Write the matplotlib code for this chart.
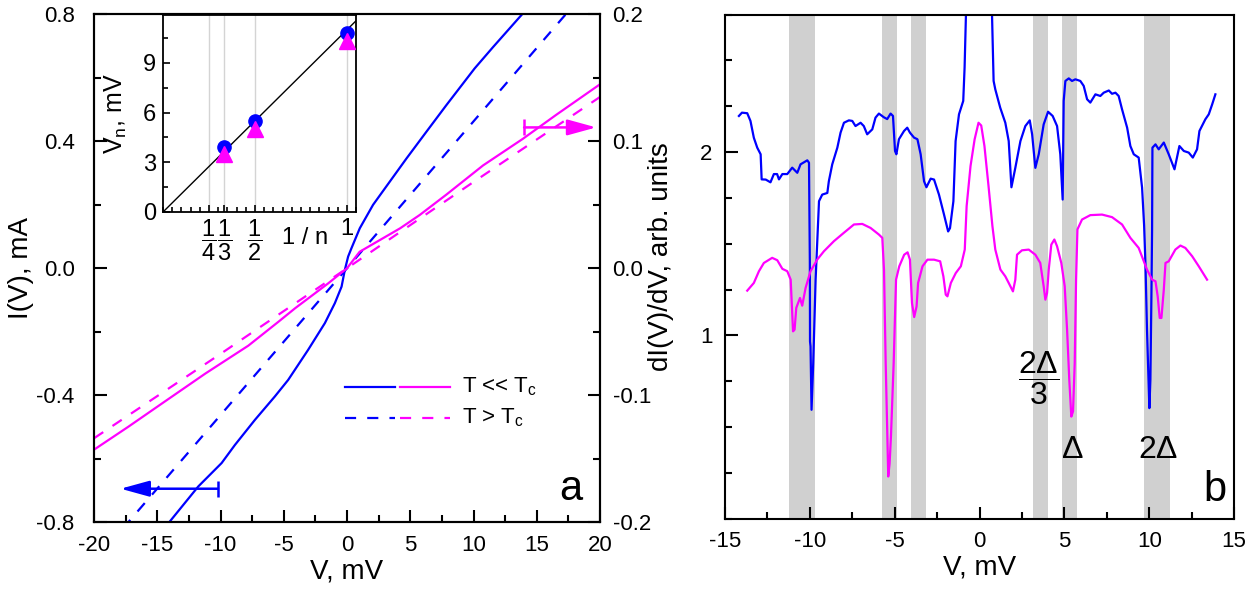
import matplotlib
matplotlib.use('Agg')
import matplotlib.pyplot as plt
from matplotlib.ticker import MultipleLocator, FixedLocator, FormatStrFormatter

plt.rcParams['font.family'] = ['Liberation Sans', 'DejaVu Sans']
plt.rcParams['mathtext.fontset'] = 'custom'
plt.rcParams['mathtext.rm'] = 'Liberation Sans'
plt.rcParams['mathtext.it'] = 'Liberation Sans:italic'
plt.rcParams['axes.unicode_minus'] = False

BLUE = '#0000ff'
PINK = '#ff00ff'
BAND = '#d0d0d0'

# ---- panel a: I(V) curves ----
# blue, T << Tc, left axis (mA)
iv_cold_v = [-15.0, -14.0, -11.76, -9.91, -8.86, -7.28, -5.7, -4.65, -3.07, -1.75, -0.96,
             -0.43, -0.17, 0.09, 0.35, 1.01, 2.06, 3.38, 4.7, 6.27, 7.85, 10.09, 11.54, 13.65, 14.5]
iv_cold_i = [-0.85, -0.798, -0.688, -0.614, -0.557, -0.478, -0.404, -0.352, -0.257, -0.173, -0.11,
             -0.058, -0.005, 0.037, 0.063, 0.126, 0.2, 0.273, 0.346, 0.43, 0.514, 0.63, 0.697, 0.792, 0.83]
# blue, T > Tc, left axis (mA)
iv_warm_v = [-20.0, -10.0, 0.0, 10.0, 20.0]
iv_warm_i = [-0.926, -0.463, 0.0, 0.463, 0.926]
# magenta, T << Tc, right axis
iv2_cold_v = [-20.0, -17.3, -14.4, -11.2, -7.8, -5.4, -4.1, -1.5, 0.0, 1.0, 4.2, 5.75, 7.85,
              10.75, 13.9, 16.55, 20.0]
iv2_cold_i = [-0.143, -0.125, -0.105, -0.083, -0.061, -0.042, -0.0315, -0.012, 0.0, 0.013, 0.0315,
              0.042, 0.058, 0.081, 0.102, 0.121, 0.145]
# magenta, T > Tc, right axis
iv2_warm_v = [-20.0, -10.0, 0.0, 10.0, 20.0]
iv2_warm_i = [-0.134, -0.0675, 0.0, 0.068, 0.135]

# inset: gap features vs 1/n
inv_n = [1 / 3, 1 / 2, 1.0]
vn_blue = [3.95, 5.5, 10.8]
vn_pink = [3.5, 5.0, 10.3]
fit_slope = 11.0
inset_ticks = [1 / 4, 1 / 3, 1 / 2, 1.0]
inset_ticklabels = [r'$\dfrac{1}{4}$', r'$\dfrac{1}{3}$', r'$\dfrac{1}{2}$', '1']

# ---- panel b: dI/dV spectra ----
didv_blue = [
    (-14.18, 2.197), (-14.0, 2.215), (-13.69, 2.212), (-13.5, 2.17), (-13.3, 2.078), (-13.1, 2.024),
    (-12.9, 1.988), (-12.84, 1.851), (-12.6, 1.85), (-12.32, 1.835), (-12.12, 1.88), (-11.93, 1.88),
    (-11.82, 1.851), (-11.62, 1.88), (-11.33, 1.88), (-11.04, 1.915), (-10.74, 1.887), (-10.55, 1.933),
    (-10.15, 1.955), (-10.05, 1.942), (-10.0, 1.40), (-9.99, 0.967), (-9.96, 0.94), (-9.9, 0.594),
    (-9.8, 0.849), (-9.66, 1.304), (-9.56, 1.523), (-9.46, 1.732), (-9.27, 1.768), (-8.97, 1.777),
    (-8.88, 1.841), (-8.68, 1.933), (-8.38, 2.024), (-8.19, 2.106), (-7.99, 2.16), (-7.7, 2.173),
    (-7.5, 2.17), (-7.31, 2.142), (-7.01, 2.16), (-6.82, 2.142), (-6.62, 2.097), (-6.32, 2.124),
    (-6.13, 2.188), (-5.93, 2.21), (-5.64, 2.19), (-5.44, 2.18), (-5.24, 2.21), (-5.1, 2.197),
    (-4.98, 2.006), (-4.9, 1.988), (-4.75, 2.07), (-4.45, 2.115), (-4.26, 2.133), (-4.1, 2.106),
    (-3.86, 2.079), (-3.66, 2.07), (-3.47, 1.988), (-3.27, 1.841), (-3.13, 1.808), (-2.88, 1.855),
    (-2.68, 1.85), (-2.39, 1.768), (-2.09, 1.658), (-1.85, 1.567), (-1.74, 1.585), (-1.54, 1.732),
    (-1.41, 2.06), (-1.21, 2.206), (-0.96, 2.279), (-0.88, 2.461), (-0.8, 2.75), (-0.6, 3.3),
    (0.0, 3.8), (0.6, 3.3), (0.735, 2.75), (0.83, 2.388), (0.93, 2.342), (1.22, 2.242), (1.52, 2.16),
    (1.72, 2.06), (1.88, 1.808), (2.11, 1.914), (2.41, 2.06), (2.7, 2.142), (2.96, 2.173), (3.1, 2.097),
    (3.29, 1.914), (3.49, 1.988), (3.78, 2.151), (4.04, 2.22), (4.31, 2.197), (4.57, 2.142),
    (4.76, 1.988), (4.9, 1.741), (4.96, 2.279), (5.06, 2.388), (5.26, 2.402), (5.45, 2.388),
    (5.65, 2.397), (5.94, 2.388), (6.14, 2.361), (6.34, 2.288), (6.53, 2.27), (6.83, 2.315),
    (7.12, 2.306), (7.32, 2.324), (7.62, 2.336), (7.81, 2.318), (8.01, 2.324), (8.2, 2.306),
    (8.4, 2.233), (8.7, 2.133), (8.89, 2.033), (9.09, 1.988), (9.38, 1.97), (9.58, 1.806), (9.7, 1.6),
    (9.78, 1.386), (9.87, 1.031), (10.01, 0.603), (10.07, 0.758), (10.13, 1.213), (10.17, 1.578),
    (10.19, 2.024), (10.37, 2.042), (10.56, 2.015), (10.86, 2.052), (11.15, 1.988), (11.49, 1.906),
    (11.78, 2.033), (12.04, 2.006), (12.33, 1.997), (12.57, 1.97), (12.82, 2.015), (12.96, 2.115),
    (13.31, 2.179), (13.51, 2.206), (13.71, 2.26), (13.9, 2.315),
]
didv_pink = [
    (-13.69, 1.244), (-13.3, 1.286), (-13.0, 1.35), (-12.71, 1.395), (-12.22, 1.423), (-11.92, 1.41),
    (-11.62, 1.363), (-11.33, 1.35), (-11.13, 1.304), (-10.99, 1.022), (-10.9, 1.031), (-10.8, 1.15),
    (-10.58, 1.204), (-10.45, 1.162), (-10.25, 1.259), (-9.96, 1.35), (-9.56, 1.414), (-9.17, 1.459),
    (-8.58, 1.514), (-7.99, 1.56), (-7.4, 1.605), (-6.91, 1.608), (-6.42, 1.586), (-5.93, 1.55),
    (-5.73, 1.532), (-5.63, 1.359), (-5.53, 0.849), (-5.44, 0.484), (-5.38, 0.23), (-5.3, 0.3),
    (-5.22, 0.448), (-5.06, 0.849), (-4.92, 1.304), (-4.73, 1.377), (-4.44, 1.44), (-4.24, 1.453),
    (-4.1, 1.413), (-3.98, 1.176), (-3.85, 1.1), (-3.71, 1.158), (-3.62, 1.286), (-3.36, 1.377),
    (-3.07, 1.413), (-2.68, 1.413), (-2.32, 1.404), (-2.13, 1.322), (-1.99, 1.222), (-1.89, 1.213),
    (-1.69, 1.286), (-1.4, 1.34), (-1.1, 1.377), (-0.87, 1.468), (-0.76, 1.705), (-0.53, 1.924),
    (-0.29, 2.069), (-0.06, 2.16), (0.1, 2.145), (0.29, 2.033), (0.53, 1.815), (0.76, 1.596),
    (0.93, 1.468), (1.23, 1.359), (1.52, 1.322), (1.72, 1.286), (1.97, 1.24), (2.11, 1.304),
    (2.21, 1.44), (2.5, 1.464), (2.9, 1.468), (3.29, 1.44), (3.58, 1.395), (3.78, 1.268), (3.88, 1.195),
    (3.98, 1.231), (4.08, 1.359), (4.23, 1.495), (4.41, 1.523), (4.57, 1.486), (4.82, 1.395),
    (5.02, 1.268), (5.16, 1.031), (5.29, 0.758), (5.41, 0.557), (5.51, 0.585), (5.61, 0.849),
    (5.69, 1.304), (5.77, 1.578), (6.04, 1.632), (6.53, 1.656), (7.22, 1.659), (7.81, 1.645),
    (8.4, 1.605), (8.89, 1.532), (9.38, 1.477), (9.87, 1.359), (10.17, 1.304), (10.37, 1.295),
    (10.5, 1.213), (10.62, 1.095), (10.72, 1.095), (10.86, 1.249), (10.96, 1.395), (11.15, 1.404),
    (11.54, 1.468), (11.84, 1.49), (12.13, 1.477), (12.53, 1.432), (12.92, 1.377), (13.41, 1.304),
]
# shaded gap-feature windows, mV
bands = [(-11.2, -9.7), (-5.75, -4.85), (-4.05, -3.15), (3.15, 4.05), (4.85, 5.75), (9.7, 11.2)]


def style_axis(a, size=16, xpad=9, ypad=10):
    a.tick_params(which='major', direction='in', length=9, width=1.5, labelsize=size)
    a.tick_params(which='minor', direction='in', length=5, width=1.5)
    a.tick_params(axis='x', which='major', pad=xpad)
    a.tick_params(axis='y', which='major', pad=ypad)
    for s in a.spines.values():
        s.set_linewidth(1.5)


fig = plt.figure(figsize=(12.6, 6.01), dpi=100)

# ---------------- panel a ----------------
ax = fig.add_axes([0.0746, 0.1314, 0.4016, 0.8445])
ax.plot(iv_cold_v, iv_cold_i, color=BLUE, lw=1.6)
ax.plot(iv_warm_v, iv_warm_i, color=BLUE, lw=1.6, dashes=(5, 5))
ax.set_xlim(-20, 20)
ax.set_ylim(-0.8, 0.8)
ax.xaxis.set_major_locator(MultipleLocator(5))
ax.xaxis.set_minor_locator(MultipleLocator(2.5))
ax.yaxis.set_major_locator(MultipleLocator(0.4))
ax.yaxis.set_minor_locator(MultipleLocator(0.2))
ax.yaxis.set_major_formatter(FormatStrFormatter('%.1f'))
style_axis(ax, ypad=14)
ax.set_xlabel('V, mV', fontsize=20, labelpad=2)
ax.set_ylabel('I(V), mA', fontsize=20)
ax.yaxis.set_label_coords(-0.118, 0.5)

ax2 = ax.twinx()
ax2.plot(iv2_cold_v, iv2_cold_i, color=PINK, lw=1.6)
ax2.plot(iv2_warm_v, iv2_warm_i, color=PINK, lw=1.6, dashes=(5, 5))
ax2.set_ylim(-0.2, 0.2)
ax2.yaxis.set_major_locator(MultipleLocator(0.1))
ax2.yaxis.set_minor_locator(MultipleLocator(0.05))
ax2.yaxis.set_major_formatter(FormatStrFormatter('%.1f'))
style_axis(ax2, ypad=9)

# axis-assignment arrows
ax.annotate('', xy=(-17.9, -0.695), xytext=(-10.2, -0.695),
            arrowprops=dict(arrowstyle='-|>,head_length=0.8,head_width=0.22', color=BLUE,
                            lw=1.8, mutation_scale=22, shrinkA=0, shrinkB=0))
ax.plot([-10.2], [-0.695], marker='|', ms=12, mew=1.8, color=BLUE)
ax2.annotate('', xy=(19.7, 0.111), xytext=(14.0, 0.111),
             arrowprops=dict(arrowstyle='-|>,head_length=0.8,head_width=0.22', color=PINK,
                             lw=1.8, mutation_scale=22, shrinkA=0, shrinkB=0))
ax2.plot([14.0], [0.111], marker='|', ms=12, mew=1.8, color=PINK)

# hand-made legend
tr = ax.transAxes
ax.plot([0.496, 0.595], [0.266, 0.266], color=BLUE, lw=1.6, transform=tr)
ax.plot([0.605, 0.704], [0.266, 0.266], color=PINK, lw=1.6, transform=tr)
ax.plot([0.496, 0.595], [0.205, 0.205], color=BLUE, lw=1.6, dashes=(5, 5), transform=tr)
ax.plot([0.605, 0.704], [0.205, 0.205], color=PINK, lw=1.6, dashes=(5, 5), transform=tr)
ax.text(0.727, 0.266, r'T << T$_\mathrm{c}$', transform=tr, fontsize=16, va='center')
ax.text(0.727, 0.205, r'T > T$_\mathrm{c}$', transform=tr, fontsize=16, va='center')
ax.text(0.966, 0.044, 'a', transform=tr, fontsize=30, ha='right', va='baseline')

# inset
axi = fig.add_axes([0.1294, 0.6473, 0.1532, 0.3278])
axi.set_facecolor('white')
axi.set_xlim(0, 1.05)
axi.set_ylim(0, 11.9)
axi.plot([0, 1.05], [0, fit_slope * 1.05], color='black', lw=1.0, zorder=2)
axi.plot(inv_n, vn_blue, 'o', color=BLUE, ms=9.5, zorder=3)
axi.plot(inv_n, vn_pink, '^', color=PINK, ms=12, zorder=4)
axi.xaxis.set_major_locator(FixedLocator(inset_ticks))
axi.set_xticklabels(inset_ticklabels)
axi.xaxis.set_minor_locator(MultipleLocator(0.05))
axi.yaxis.set_major_locator(MultipleLocator(3))
axi.yaxis.set_minor_locator(MultipleLocator(1.5))
axi.grid(axis='x', which='major', color='#d4d4d4', lw=1.0, zorder=0)
axi.set_axisbelow(True)
axi.tick_params(which='major', direction='in', length=5, width=1.2, labelsize=17, pad=5)
axi.tick_params(axis='x', which='major', pad=4)
axi.tick_params(which='minor', direction='in', length=3.5, width=1.2)
for s in axi.spines.values():
    s.set_linewidth(1.3)
axi.set_ylabel(r'V$_\mathrm{n}$, mV', fontsize=18)
axi.yaxis.set_label_coords(-0.175, 0.5)
axi.text(0.736, -0.13, '1 / n', transform=axi.transAxes, fontsize=17, ha='center', va='center')

# ---------------- panel b ----------------
bx = fig.add_axes([0.5754, 0.1370, 0.4040, 0.8387])
for lo, hi in bands:
    bx.axvspan(lo, hi, color=BAND, lw=0, zorder=0)
bx.plot([p[0] for p in didv_blue], [p[1] for p in didv_blue], color=BLUE, lw=1.6, zorder=2)
bx.plot([p[0] for p in didv_pink], [p[1] for p in didv_pink], color=PINK, lw=1.6, zorder=3)
bx.set_xlim(-15, 15)
bx.set_ylim(0, 2.75)
bx.xaxis.set_major_locator(MultipleLocator(5))
bx.xaxis.set_minor_locator(MultipleLocator(2.5))
bx.yaxis.set_major_locator(FixedLocator([1, 2]))
bx.yaxis.set_minor_locator(MultipleLocator(0.25))
bx.yaxis.set_major_formatter(FormatStrFormatter('%d'))
style_axis(bx, ypad=9)
bx.set_xlabel('V, mV', fontsize=20, labelpad=2)
bx.set_ylabel('dI(V)/dV, arb. units', fontsize=20)
bx.yaxis.set_label_coords(-0.1, 0.52)

bx.text(3.47, 0.769, r'$\dfrac{2\mathrm{\Delta}}{3}$', fontsize=23, ha='center', va='center')
bx.text(5.49, 0.375, 'Δ', fontsize=23, ha='center', va='center')
bx.text(10.52, 0.375, '2Δ', fontsize=23, ha='center', va='center')
bx.text(0.985, 0.035, 'b', transform=bx.transAxes, fontsize=30, ha='right', va='baseline')

fig.savefig('out.png', dpi=100)
